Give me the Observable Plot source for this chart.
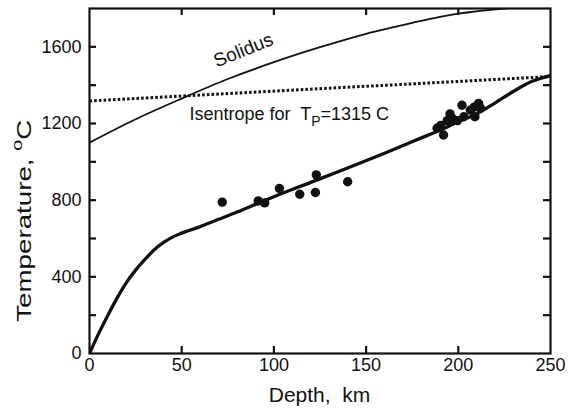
<!DOCTYPE html>
<html><head><meta charset="utf-8">
<script src="https://cdn.jsdelivr.net/npm/d3@7"></script>
<script src="https://cdn.jsdelivr.net/npm/@observablehq/plot@0.6"></script>
<style>
body{margin:0;background:#fff}
#chart{position:relative;width:568px;height:412px}
</style>
</head><body><div id="chart"></div>
<script>
// ---- data ----
const depthTicks = [0, 50, 100, 150, 200, 250];
const depthInnerTicks = [50, 100, 150, 200];
const tempTicks = [0, 400, 800, 1200, 1600];
const tempMinorTicks = [200, 400, 600, 800, 1000, 1200, 1400, 1600];

const geothermDepth = [0, 5, 10, 15, 20, 25, 30, 35, 40, 45, 50, 60, 70, 80, 90, 100, 120, 140, 160, 180, 190, 200, 210, 220, 230, 240, 250];
const geothermTemp  = [0, 105, 200, 290, 370, 435, 490, 540, 578, 607, 628, 662, 700, 738, 778, 818, 893, 968, 1045, 1125, 1165, 1210, 1250, 1308, 1368, 1420, 1450];

const solidusDepth = [0, 25, 50, 75, 100, 125, 150, 175, 190, 200, 225, 250];
const solidusTemp  = [1100, 1222, 1330, 1432, 1520, 1598, 1668, 1725, 1756, 1773, 1800, 1815];

const isentropeDepth = [0, 250];
const isentropeTemp  = [1318, 1445];

const xenolithDepth = [72, 91.5, 95, 103, 114, 122.5, 123, 140, 188.5, 190.5, 192, 194, 195.5, 197, 199.5, 202, 203, 206.5, 208.5, 209, 211, 212];
const xenolithTemp  = [790, 796, 786, 861, 831, 840, 932, 896, 1175, 1190, 1140, 1215, 1250, 1225, 1215, 1295, 1235, 1270, 1285, 1235, 1305, 1280];

// ---- build tables ----
const geotherm = geothermDepth.map((d, i) => ({depth: d, temp: geothermTemp[i]}));
const solidus = solidusDepth.map((d, i) => ({depth: d, temp: solidusTemp[i]}));
const isentrope = isentropeDepth.map((d, i) => ({depth: d, temp: isentropeTemp[i]}));
const xenoliths = xenolithDepth.map((d, i) => ({depth: d, temp: xenolithTemp[i]}));

const W = 568, H = 412, mL = 89, mR = 18, mT = 8, mB = 59;
const innerW = W - mL - mR, innerH = H - mT - mB, tk = 7;
const font = "'Liberation Sans', Arial, Helvetica, sans-serif";

const plot = Plot.plot({
  width: W, height: H,
  marginLeft: mL, marginRight: mR, marginTop: mT, marginBottom: mB,
  x: {domain: [0, 250]},
  y: {domain: [0, 1800]},
  style: {fontFamily: font, fontSize: "18px", color: "#111", background: "white", overflow: "visible"},
  marks: [
    Plot.axisX({ticks: depthTicks, tickSize: 0, tickPadding: 5, label: null, fontSize: 18, tickFormat: d3.format("d")}),
    Plot.axisY({ticks: tempTicks, tickSize: 0, tickPadding: 8, label: null, fontSize: 18, tickFormat: d3.format("d")}),
    Plot.tickX(depthInnerTicks, {x: d => d, insetTop: innerH - tk, strokeWidth: 2.2, stroke: "#111"}),
    Plot.tickX(depthInnerTicks, {x: d => d, insetBottom: innerH - tk, strokeWidth: 2.2, stroke: "#111"}),
    Plot.tickY(tempMinorTicks, {y: d => d, insetRight: innerW - tk, strokeWidth: 2.2, stroke: "#111"}),
    Plot.tickY(tempMinorTicks, {y: d => d, insetLeft: innerW - tk, strokeWidth: 2.2, stroke: "#111"}),
    Plot.line(isentrope, {x: "depth", y: "temp", stroke: "#111", strokeWidth: 3, strokeDasharray: "2.6,2.1", strokeLinecap: "butt", clip: true}),
    Plot.line(solidus, {x: "depth", y: "temp", curve: "monotone-x", stroke: "#111", strokeWidth: 1.8, clip: true}),
    Plot.line(geotherm, {x: "depth", y: "temp", curve: "monotone-x", stroke: "#111", strokeWidth: 3.3, clip: true}),
    Plot.dot(xenoliths, {x: "depth", y: "temp", r: 4.7, fill: "#111", stroke: "none"}),
    Plot.frame({stroke: "#111", strokeWidth: 2.2})
  ]
});

// ---- annotations as real text ----
const sx = plot.scale("x"), sy = plot.scale("y");
const svg = d3.select(plot);
const g = svg.append("g").attr("font-family", font).attr("fill", "#111").attr("text-anchor", "start");

// Solidus label
g.append("text")
  .attr("transform", `translate(${sx.apply(85)},${sy.apply(1550)}) rotate(-22)`)
  .attr("text-anchor", "middle").attr("font-size", 19).text("Solidus");

// Isentrope label
const iso = g.append("text")
  .attr("x", sx.apply(54.5)).attr("y", sy.apply(1215))
  .attr("text-anchor", "start")
  .attr("font-size", 18).style("white-space", "pre");
iso.append("tspan").text("Isentrope for  T");
iso.append("tspan").attr("dy", 6).attr("font-size", 14).text("P");
iso.append("tspan").attr("dy", -6).text("=1315 C");

// Axis titles
g.append("text")
  .attr("x", sx.apply(125)).attr("y", H - 10)
  .attr("text-anchor", "middle").attr("font-size", 21).style("white-space", "pre")
  .text("Depth,  km");

const yl = g.append("text")
  .attr("transform", `translate(31,${sy.apply(690)}) rotate(-90) scale(1.32,1)`)
  .attr("text-anchor", "middle").attr("font-size", 21).style("white-space", "pre");
yl.append("tspan").text("Temperature, ");
yl.append("tspan").attr("dy", -9).attr("font-size", 15).text("o");
yl.append("tspan").attr("dy", 9).text("C");

document.getElementById("chart").appendChild(plot);
</script>
</body></html>
